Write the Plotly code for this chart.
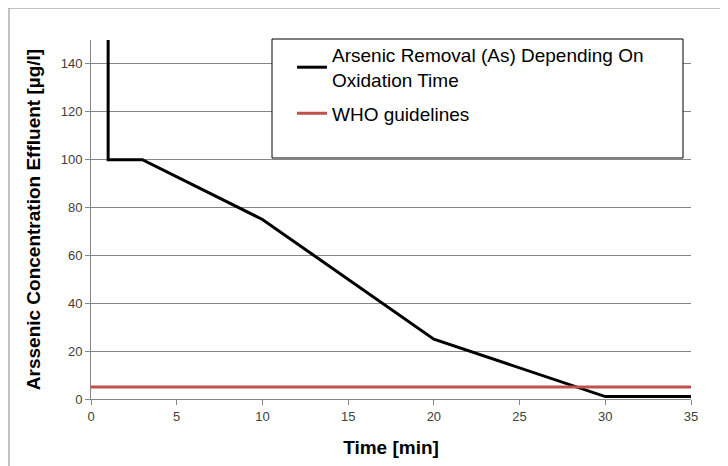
import plotly.graph_objects as go

time_min = [1, 1, 3, 10, 20, 30, 35]
arsenic = [150, 100, 100, 75, 25, 1, 1]
who_x = [0, 35]
who_y = [5, 5]

fig = go.Figure()
fig.add_trace(go.Scatter(x=time_min, y=arsenic, mode="lines", legendgroup="a",
                         name="Arsenic Removal (As) Depending On<br>Oxidation Time",
                         line=dict(color="black", width=3)))
fig.add_trace(go.Scatter(x=who_x, y=who_y, mode="lines", name="WHO guidelines", legendgroup="b",
                         line=dict(color="#c0504d", width=3)))

font = "Liberation Sans"
# page offset of 8px (body margin)
L, T, R, B = 83, 32, 683, 391
W, H = 720, 458
pw, ph = R - L, B - T

def px(x):
    return (x - L) / pw

def py(y):
    return (B - y) / ph

fig.update_layout(
    width=W, height=H,
    margin=dict(l=L, r=W - R, t=T, b=H - B, autoexpand=False),
    paper_bgcolor="white", plot_bgcolor="white",
    font=dict(family=font, color="#404040"),
    showlegend=True,
    legend=dict(x=px(284), y=py(28), xanchor="left", yanchor="top",
                font=dict(size=19, color="black", family=font),
                bgcolor="rgba(0,0,0,0)", borderwidth=0,
                traceorder="grouped", tracegroupgap=6),
    xaxis=dict(range=[0, 35], tickvals=[0, 5, 10, 15, 20, 25, 30, 35],
               showgrid=False, showline=True, linecolor="#868686", linewidth=1,
               ticks="outside", ticklen=5, tickcolor="#868686", automargin=False,
               tickfont=dict(size=13, color="#404040"),
               title=dict(text="<b>Time [min]</b>", font=dict(size=19, color="black"), standoff=18),
               zeroline=False),
    yaxis=dict(range=[0, 150], tickvals=[0, 20, 40, 60, 80, 100, 120, 140],
               showgrid=True, gridcolor="#868686", gridwidth=1,
               showline=True, linecolor="#868686", linewidth=1,
               ticks="outside", ticklen=5, tickcolor="#868686", automargin=False,
               tickfont=dict(size=13, color="#404040"),
               title=dict(text="<b>Arssenic Concentration Effluent [µg/l]</b>",
                          font=dict(size=19, color="black"), standoff=15),
               zeroline=False),
    shapes=[
        dict(type="rect", xref="paper", yref="paper", x0=px(264), x1=px(675),
             y0=py(150), y1=py(31), line=dict(color="black", width=1),
             fillcolor="white", layer="above"),
        dict(type="rect", xref="paper", yref="paper", x0=px(1), x1=px(760),
             y0=py(500), y1=py(0), line=dict(color="#868686", width=1),
             fillcolor="rgba(0,0,0,0)", layer="below"),
    ],
)
fig.write_html("out.html")
